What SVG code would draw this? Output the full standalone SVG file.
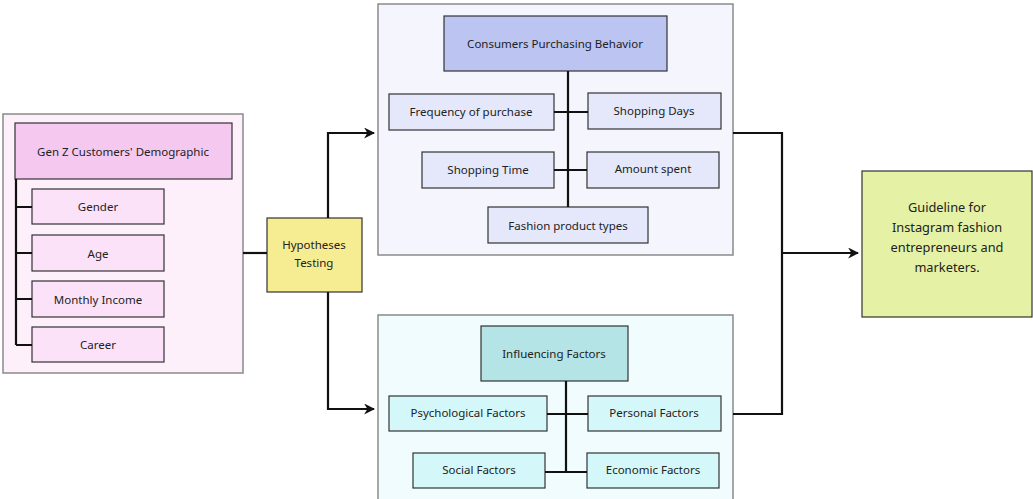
<svg xmlns="http://www.w3.org/2000/svg" width="1033" height="499" viewBox="0 0 1033 499">
  <style>
    .panel { stroke: #8a8a8a; stroke-width: 1.5; }
    .box { stroke: #333; stroke-width: 1.2; }
    .t { font-family: "Noto Sans", "Open Sans", sans-serif; font-size: 11.5px; fill: #222; text-anchor: middle; dominant-baseline: central; }
    .big { font-size: 12.8px; }
    .wire { fill: none; stroke: #111; stroke-width: 2.2; }
  </style>
  <defs>
    <marker id="arrow" viewBox="0 0 10 10" refX="9" refY="5" markerWidth="5" markerHeight="5" orient="auto" markerUnits="strokeWidth">
      <path d="M0,0 L10,5 L0,10 L3,5 z" fill="#111"/>
    </marker>
  </defs>
  <rect width="1033" height="499" fill="#ffffff"/>

  <!-- Demographic panel -->
  <g id="demographic">
    <rect class="panel" x="3" y="114" width="240" height="259" fill="#fdf0fb"/>
    <rect class="box" x="15" y="123" width="217" height="56" fill="#f5c8ef"/>
    <text class="t" x="123" y="151">Gen Z Customers' Demographic</text>
    <rect class="box" x="32" y="189" width="132" height="35" fill="#fce2f8"/>
    <text class="t" x="98" y="206">Gender</text>
    <rect class="box" x="32" y="235" width="132" height="36" fill="#fce2f8"/>
    <text class="t" x="98" y="253">Age</text>
    <rect class="box" x="32" y="281" width="132" height="36" fill="#fce2f8"/>
    <text class="t" x="98" y="299">Monthly Income</text>
    <rect class="box" x="32" y="327" width="132" height="35" fill="#fce2f8"/>
    <text class="t" x="98" y="344">Career</text>
  </g>

  <!-- Hypotheses -->
  <g id="hypotheses">
    <rect class="box" x="267" y="218" width="95" height="74" fill="#f6ec92"/>
    <text class="t" x="314" y="244">Hypotheses</text>
    <text class="t" x="314" y="262">Testing</text>
  </g>

  <!-- Purchasing behavior panel -->
  <g id="behavior">
    <rect class="panel" x="378" y="4" width="355" height="251" fill="#f4f5fd"/>
    <rect class="box" x="444" y="16" width="223" height="55" fill="#bcc4f2"/>
    <text class="t" x="555" y="43">Consumers Purchasing Behavior</text>
    <rect class="box" x="389" y="94" width="165" height="36" fill="#e4e8fa"/>
    <text class="t" x="471" y="111">Frequency of purchase</text>
    <rect class="box" x="588" y="93" width="133" height="36" fill="#e4e8fa"/>
    <text class="t" x="654" y="110">Shopping Days</text>
    <rect class="box" x="422" y="152" width="132" height="36" fill="#e4e8fa"/>
    <text class="t" x="488" y="169">Shopping Time</text>
    <rect class="box" x="587" y="152" width="132" height="36" fill="#e4e8fa"/>
    <text class="t" x="653" y="168">Amount spent</text>
    <rect class="box" x="488" y="207" width="160" height="36" fill="#e4e8fa"/>
    <text class="t" x="568" y="225">Fashion product types</text>
  </g>

  <!-- Influencing factors panel -->
  <g id="factors">
    <rect class="panel" x="378" y="315" width="355" height="190" fill="#f0fcfd"/>
    <rect class="box" x="481" y="326" width="147" height="55" fill="#b5e4e6"/>
    <text class="t" x="554" y="353">Influencing Factors</text>
    <rect class="box" x="389" y="396" width="158" height="35" fill="#d4f8f9"/>
    <text class="t" x="468" y="412">Psychological Factors</text>
    <rect class="box" x="588" y="396" width="133" height="35" fill="#d4f8f9"/>
    <text class="t" x="654" y="412">Personal Factors</text>
    <rect class="box" x="413" y="453" width="132" height="35" fill="#d4f8f9"/>
    <text class="t" x="479" y="469">Social Factors</text>
    <rect class="box" x="587" y="453" width="132" height="35" fill="#d4f8f9"/>
    <text class="t" x="653" y="469">Economic Factors</text>
  </g>

  <!-- Guideline -->
  <g id="guideline">
    <rect class="box" x="862" y="171" width="170" height="146" fill="#e5f1a4"/>
    <text class="t big" x="947" y="207">Guideline for</text>
    <text class="t big" x="947" y="227">Instagram fashion</text>
    <text class="t big" x="947" y="247">entrepreneurs and</text>
    <text class="t big" x="947" y="267">marketers.</text>
  </g>

  <!-- Connectors -->
  <g id="connectors">
    <!-- demographic tree -->
    <path class="wire" d="M16,179 V345 M16,207 H32 M16,253 H32 M16,299 H32 M16,345 H32"/>
    <!-- behavior tree -->
    <path class="wire" d="M568,71 V207 M554,112 H588 M554,170 H587"/>
    <!-- factors tree -->
    <path class="wire" d="M566,381 V472 M547,414 H588 M545,472 H587"/>
    <!-- demographic to hypotheses -->
    <path class="wire" d="M243,253 H267"/>
    <!-- hypotheses split -->
    <path class="wire" d="M328,218 V133 H374" marker-end="url(#arrow)"/>
    <path class="wire" d="M328,292 V409 H374" marker-end="url(#arrow)"/>
    <!-- merge to guideline -->
    <path class="wire" d="M733,133 H782 V414 H733 M782,253 H858" marker-end="url(#arrow)"/>
  </g>
</svg>
